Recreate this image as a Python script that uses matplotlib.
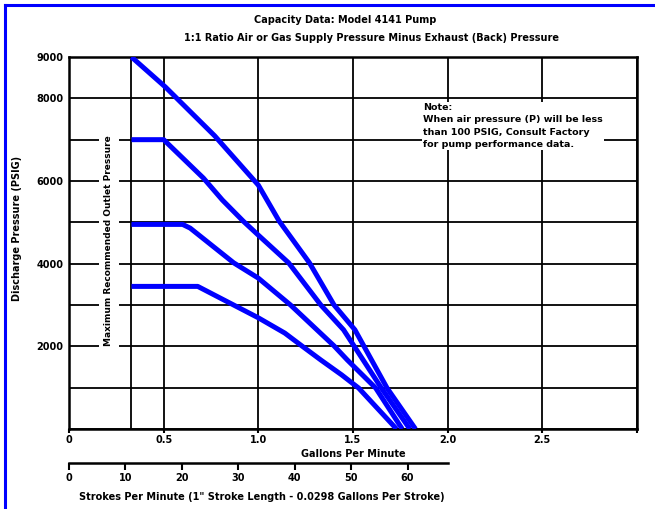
import matplotlib
matplotlib.use("Agg")
import matplotlib.pyplot as plt
from matplotlib.lines import Line2D

# capacity curves, gpm vs discharge psi
gpm_1 = [0.33, 0.51, 0.77, 1.00, 1.11, 1.27, 1.40, 1.51, 1.68, 1.83]
psi_1 = [9000, 8270, 7090, 5900, 5030, 4020, 3000, 2400, 990, 0]
gpm_2 = [0.33, 0.50, 0.71, 0.81, 0.92, 1.00, 1.16, 1.33, 1.45, 1.65, 1.80]
psi_2 = [7000, 7000, 6070, 5540, 5030, 4690, 4020, 3000, 2400, 990, 0]
gpm_3 = [0.33, 0.60, 0.64, 0.87, 1.00, 1.17, 1.40, 1.47, 1.62, 1.76]
psi_3 = [4950, 4950, 4860, 4020, 3650, 3000, 2010, 1670, 990, 0]
gpm_4 = [0.33, 0.68, 1.00, 1.14, 1.23, 1.33, 1.44, 1.53, 1.73]
psi_4 = [3450, 3450, 2690, 2320, 2010, 1670, 1310, 990, 0]
curves = [(gpm_1, psi_1), (gpm_2, psi_2), (gpm_3, psi_3), (gpm_4, psi_4)]

x_ticks = [0, 0.5, 1.0, 1.5, 2.0, 2.5, 3.0]
x_labels = ["0", "0.5", "1.0", "1.5", "2.0", "2.5", ""]
y_ticks = [0, 1000, 2000, 3000, 4000, 5000, 6000, 7000, 8000, 9000]
y_labels = ["", "", "2000", "", "4000", "", "6000", "", "8000", "9000"]
min_flow = 0.33

strokes = [0, 10, 20, 30, 40, 50, 60]
gal_per_stroke = 0.0298

title1 = "Capacity Data: Model 4141 Pump"
title2 = "1:1 Ratio Air or Gas Supply Pressure Minus Exhaust (Back) Pressure"
note = ("Note:\nWhen air pressure (P) will be less\n"
        "than 100 PSIG, Consult Factory\nfor pump performance data.")
strokes_label = 'Strokes Per Minute (1" Stroke Length - 0.0298 Gallons Per Stroke)'

W, H = 655, 509
fnt = dict(family="DejaVu Sans", weight="bold")

fig = plt.figure(figsize=(W / 100, H / 100), dpi=100)
ax = fig.add_axes([69 / W, 1 - 429 / H, (637 - 69) / W, (429 - 57) / H])

for gx, gy in curves:
    ax.plot(gx, gy, color="#0000ff", lw=3.6, solid_capstyle="butt", zorder=4)

ax.set_xlim(0, 3.0)
ax.set_ylim(0, 9000)
ax.set_xticks(x_ticks)
ax.set_xticklabels(x_labels, fontsize=7, **fnt)
ax.set_yticks(y_ticks)
ax.set_yticklabels(y_labels, fontsize=7, **fnt)
ax.tick_params(axis="y", length=0, pad=4)
ax.tick_params(axis="x", length=3, width=1.5, pad=1)
ax.grid(True, color="black", lw=1.3)
ax.axvline(min_flow, color="black", lw=1.3, zorder=1)
for s in ax.spines.values():
    s.set_linewidth(1.8)

ax.set_xlabel("Gallons Per Minute", fontsize=7, labelpad=3, **fnt)
ax.set_ylabel("Discharge Pressure (PSIG)", fontsize=7, **fnt)
ax.yaxis.set_label_coords(-0.083, 0.54)

ax.text(0.21, 4550, "Maximum Recommended Outlet Pressure", rotation=90,
        ha="center", va="center", fontsize=6.5, zorder=3,
        bbox=dict(fc="white", ec="none", pad=4), **fnt)
ax.text(1.87, 7880, note, ha="left", va="top", fontsize=6.8,
        linespacing=1.45, zorder=3, bbox=dict(fc="white", ec="none", pad=1), **fnt)

fig.text(345 / W, 1 - 20 / H, title1, ha="center", va="center", fontsize=7, **fnt)
fig.text(372 / W, 1 - 38 / H, title2, ha="center", va="center", fontsize=7, **fnt)

# strokes per minute scale
ax2 = fig.add_axes([69 / W, 1 - 463 / H, (637 - 69) / W, 0.0001])
ax2.set_xlim(0, 3.0)
ax2.patch.set_visible(False)
for k in ["top", "left", "right"]:
    ax2.spines[k].set_visible(False)
ax2.spines["bottom"].set_linewidth(1.8)
ax2.spines["bottom"].set_bounds(0, 2.0)
ax2.set_yticks([])
ax2.set_xticks([s * gal_per_stroke for s in strokes])
ax2.set_xticklabels([str(s) for s in strokes], fontsize=7, **fnt)
ax2.tick_params(axis="x", length=5, width=1.5, pad=2)
fig.text(262 / W, 1 - 497 / H, strokes_label, ha="center", va="center",
         fontsize=7, **fnt)

# blue frame on top and left
fig.add_artist(Line2D([5 / W, 1], [1 - 5 / H, 1 - 5 / H], color="#0000ff", lw=2.2))
fig.add_artist(Line2D([5 / W, 5 / W], [0, 1 - 5 / H], color="#0000ff", lw=2.2))

fig.savefig("out.png", dpi=100)
